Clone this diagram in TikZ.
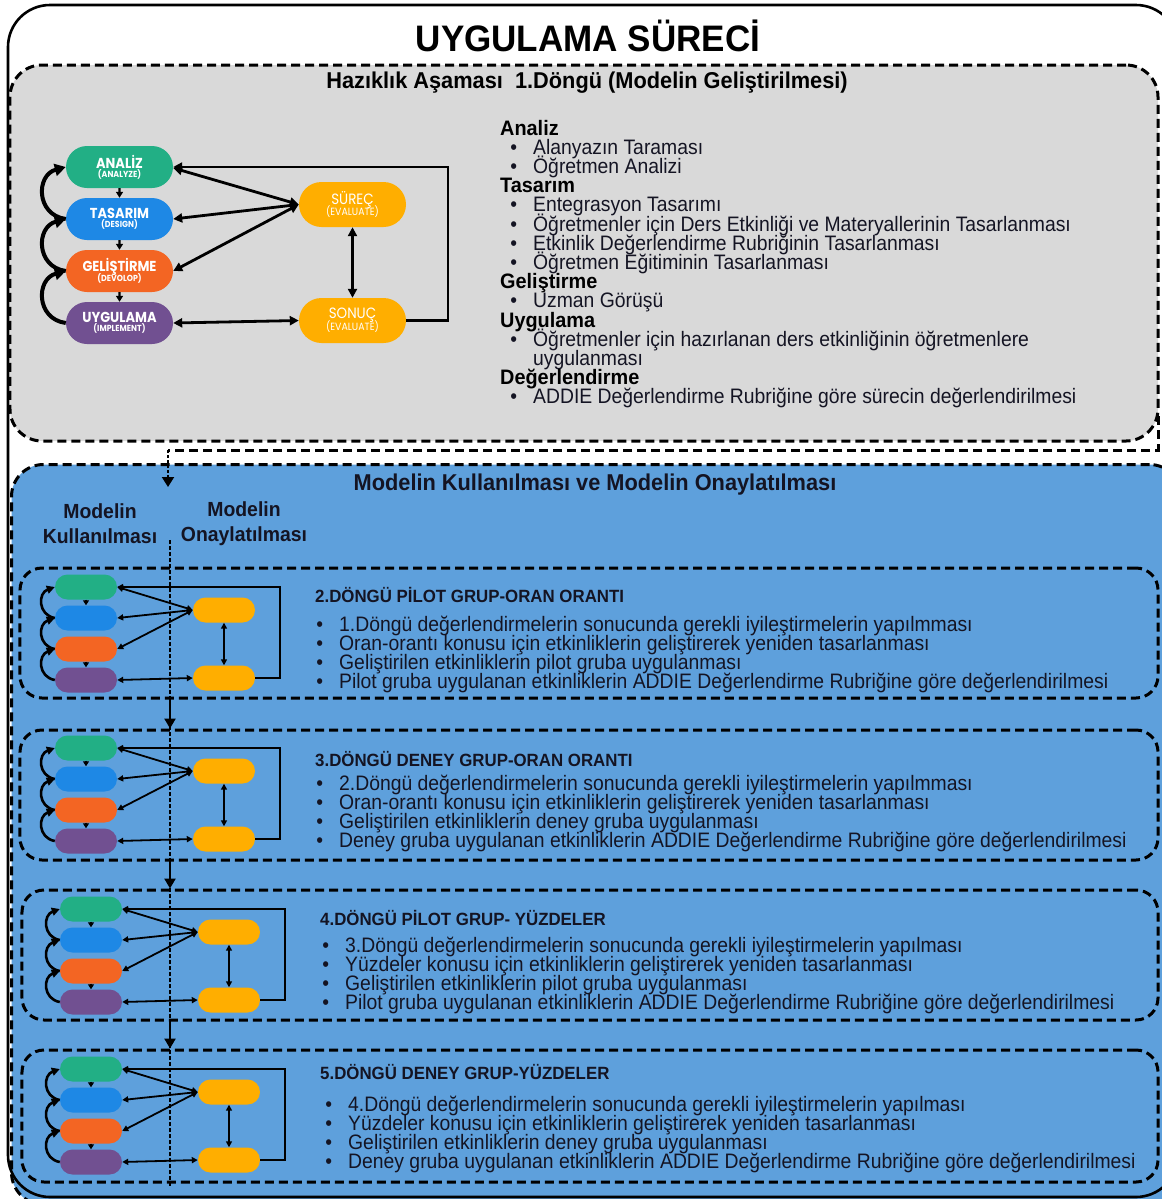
\documentclass[tikz,border=0pt]{standalone}
\usepackage{fontspec}
\setmainfont{Liberation Sans}[FakeStretch=0.925, BoldFeatures={FakeStretch=0.95}]
\newfontfamily\popfont{Poppins}[FakeStretch=0.9]
\usetikzlibrary{arrows.meta,shapes.misc,calc}

\definecolor{cgreen}{RGB}{34,175,133}
\definecolor{cblue}{RGB}{30,136,229}
\definecolor{corange}{RGB}{243,101,35}
\definecolor{cpurple}{RGB}{113,80,145}
\definecolor{cyellow}{RGB}{255,174,0}
\definecolor{cgray}{RGB}{217,217,217}
\definecolor{cbg}{RGB}{94,160,220}
\definecolor{ctext}{RGB}{20,20,35}

\tikzset{
  pillbig/.style={rounded rectangle, minimum width=107bp, minimum height=42bp,
    inner sep=0pt, text=white, align=center},
  pillsmall/.style={rounded rectangle, minimum width=62bp, minimum height=25bp, inner sep=0pt},
  heavydash/.style={line width=3bp, dash pattern=on 9bp off 5bp},
  phasebox/.style={draw, heavydash, rectangle, rounded corners=32bp, inner sep=0pt},
  cycbox/.style={draw, heavydash, rectangle, rounded corners=22bp, inner sep=0pt},
  bigline/.style={line width=2.8bp},
  bigdbl/.style={bigline, {Triangle[length=9bp,width=9bp]}-{Triangle[length=9bp,width=9bp]}},
  bigstep/.style={line width=2.4bp, -{Triangle[length=6bp,width=7bp]}},
  bigcurl/.style={line width=4bp, -{Triangle[length=11bp,width=12bp]}},
  smline/.style={line width=1.8bp},
  smdbl/.style={smline, {Triangle[length=6bp,width=6bp]}-{Triangle[length=6bp,width=6bp]}},
  smstep/.style={line width=1.6bp, -{Triangle[length=5bp,width=6bp]}},
  smcurl/.style={line width=2.6bp, -{Triangle[length=8bp,width=8bp]}},
  flowarr/.style={line width=2.6bp, -{Triangle[length=10bp,width=11bp]}},
  divider/.style={line width=1.5bp, dash pattern=on 3.5bp off 2.5bp},
  hd/.style={font=\fontsize{21}{19}\selectfont\bfseries, anchor=base west, inner sep=0pt, text=black},
  it/.style={font=\fontsize{21}{19}\selectfont, anchor=base west, inner sep=0pt, text=ctext},
  cyctitle/.style={font=\fontsize{17.8}{19}\selectfont\bfseries, anchor=base west, inner sep=0pt, text=ctext},
}

% pill captions
\newcommand\phasecap[2]{{\popfont\bfseries\fontsize{14.5}{14}\selectfont #1}\\[-3bp]{\popfont\bfseries\fontsize{8.8}{9}\selectfont (#2)}}
\newcommand\evalcap[1]{{\popfont\fontsize{15}{15}\selectfont #1}\\[-3bp]{\popfont\fontsize{10.5}{11}\selectfont (EVALUATE)}}

% one bullet line of a list: name, x of text, baseline y, text
\newcommand\bulletline[4]{\node[it] (#1) at (#2,#3) {\llap{\textbullet\hspace{16bp}}#4};}

% small ADDIE loop; green pill centred at (#2,#3)
\newcommand\minicycle[3]{%
  \begin{scope}[shift={(#2,#3)}]
    \node[pillsmall, fill=cgreen]  (#1g) at (0,0) {};
    \node[pillsmall, fill=cblue]   (#1b) at (0,31) {};
    \node[pillsmall, fill=corange] (#1o) at (0,62) {};
    \node[pillsmall, fill=cpurple] (#1p) at (0,93) {};
    \node[pillsmall, fill=cyellow] (#1s) at (138,23) {};
    \node[pillsmall, fill=cyellow] (#1r) at (138,91) {};
    \coordinate (#1f) at (194,0);
  \end{scope}
  \draw[smstep] (#1g) -- (#1b);
  \draw[smstep] (#1o) -- (#1p);
  \draw[smdbl] (#1s.west) -- (#1g.east);
  \draw[smdbl] (#1s.west) -- (#1b.east);
  \draw[smdbl] (#1s.west) -- (#1o.east);
  \draw[smdbl] (#1p.east) -- (#1r.west);
  \draw[smdbl] (#1s.south) -- (#1r.north);
  \draw[smline, -{Triangle[length=6bp,width=6bp]}] (#1r.east) -- (#1r.east -| #1f) -- (#1f) -- (#1g.east);
  \draw[smcurl] (#1b.west) .. controls ($(#1b.west)+(-17,-3)$) and ($(#1g.west)+(-17,6)$) .. (#1g.west);
  \draw[smcurl] (#1o.west) .. controls ($(#1o.west)+(-17,-3)$) and ($(#1b.west)+(-17,6)$) .. (#1b.west);
  \draw[smcurl] (#1p.west) .. controls ($(#1p.west)+(-17,-3)$) and ($(#1o.west)+(-17,6)$) .. (#1o.west);
}

\begin{document}
\begin{tikzpicture}[x=1bp, y=-1bp]
\useasboundingbox (0,0) rectangle (1162,1199);
\fill[white] (0,0) rectangle (1162,1199);

% preparation phase
\node[phasebox, fill=cgray, minimum width=1148bp, minimum height=376bp] (prep) at (584,253) {};
% use and approval phase
\node[phasebox, fill=cbg, minimum width=1170bp, minimum height=740bp, anchor=north west] (use) at (10,463) {};

% outer frame
\draw[line width=2.6bp, rounded corners=42bp] (8,5) rectangle (1178,1197);

\node[font=\fontsize{37}{40}\selectfont\bfseries] (title) at (588,36) {UYGULAMA SÜRECİ};
\node[font=\fontsize{23}{26}\selectfont\bfseries] (preptitle) at (587,83) {Hazıklık Aşaması\ \ 1.Döngü (Modelin Geliştirilmesi)};

% ---- ADDIE loop of the first cycle
\node[pillbig, fill=cgreen] (ana) at (119.5,167) {\phasecap{ANALİZ}{ANALYZE}};
\node[pillbig, fill=cblue] (tas) at (119.5,219) {\phasecap{TASARIM}{DESIGN}};
\node[pillbig, fill=corange] (gel) at (119.5,271) {\phasecap{GELİŞTİRME}{DEVOLOP}};
\node[pillbig, fill=cpurple] (uyg) at (119.5,323) {\phasecap{UYGULAMA}{IMPLEMENT}};
\node[pillbig, fill=cyellow, minimum height=45bp] (surec) at (352.5,204.5) {\evalcap{SÜREÇ}};
\node[pillbig, fill=cyellow, minimum height=45bp] (sonuc) at (352.5,320.5) {\evalcap{SONUÇ}};
\coordinate (loopedge) at (448,250);

\draw[bigstep] (ana) -- (tas);
\draw[bigstep] (tas) -- (gel);
\draw[bigstep] (gel) -- (uyg);
\draw[bigdbl] (surec.west) -- ($(ana.east)+(0,1)$);
\draw[bigdbl] (surec.west) -- (tas.east);
\draw[bigdbl] (surec.west) -- (gel.east);
\draw[bigdbl] (uyg.east) -- (sonuc.west);
\draw[bigdbl] (surec.south) -- (sonuc.north);
\draw[bigline, -{Triangle[length=9bp,width=9bp]}] (sonuc.east) -- (sonuc.east -| loopedge) |- (ana.east);
\draw[bigcurl] (tas.west) .. controls ($(tas.west)+(-30,-4)$) and ($(ana.west)+(-30,8)$) .. (ana.west);
\draw[bigcurl] (gel.west) .. controls ($(gel.west)+(-30,-4)$) and ($(tas.west)+(-30,8)$) .. (tas.west);
\draw[bigcurl] (uyg.west) .. controls ($(uyg.west)+(-30,-4)$) and ($(gel.west)+(-30,8)$) .. (gel.west);

% ---- first cycle task list
\node[hd] (hA) at (500,135) {Analiz};
\bulletline{iA1}{533}{154.2}{Alanyazın Taraması}
\bulletline{iA2}{533}{173.4}{Öğretmen Analizi}
\node[hd] (hT) at (500,192.6) {Tasarım};
\bulletline{iT1}{533}{211.8}{Entegrasyon Tasarımı}
\bulletline{iT2}{533}{231}{Öğretmenler için Ders Etkinliği ve Materyallerinin Tasarlanması}
\bulletline{iT3}{533}{250.2}{Etkinlik Değerlendirme Rubriğinin Tasarlanması}
\bulletline{iT4}{533}{269.4}{Öğretmen Eğitiminin Tasarlanması}
\node[hd] (hG) at (500,288.6) {Geliştirme};
\bulletline{iG1}{533}{307.8}{Uzman Görüşü}
\node[hd] (hU) at (500,327) {Uygulama};
\bulletline{iU1}{533}{346.2}{Öğretmenler için hazırlanan ders etkinliğinin öğretmenlere}
\node[it] (iU1b) at (533,365.4) {uygulanması};
\node[hd] (hD) at (500,384.6) {Değerlendirme};
\bulletline{iD1}{533}{403.8}{ADDIE Değerlendirme Rubriğine göre sürecin değerlendirilmesi}

% ---- link from the preparation phase into the next phase
\coordinate (link) at (1158,416);
\coordinate (bend) at (168,450);
\coordinate (arrin) at (168,487);
\draw[heavydash] (link) -- (link |- bend) -- (bend);
\draw[line width=2bp, dash pattern=on 3bp off 2bp, -{Triangle[length=10bp,width=12bp]}] (bend) -- (arrin);

\node[font=\fontsize{23}{26}\selectfont\bfseries, text=ctext] (usetitle) at (595,485) {Modelin Kullanılması ve Modelin Onaylatılması};
\node[font=\fontsize{20.5}{25}\selectfont\bfseries, align=center, text=ctext] (coluse) at (100,524) {Modelin\\Kullanılması};
\node[font=\fontsize{20.5}{25}\selectfont\bfseries, align=center, text=ctext] (colok) at (244,524) {Modelin\\Onaylatılması};

% ---- cycle boxes
\node[cycbox, minimum width=1138bp, minimum height=130bp] (cyc2) at (589,633) {};
\node[cycbox, minimum width=1138bp, minimum height=130bp] (cyc3) at (589,795) {};
\node[cycbox, minimum width=1136bp, minimum height=130bp] (cyc4) at (590,955) {};
\node[cycbox, minimum width=1136bp, minimum height=132bp] (cyc5) at (590,1116) {};

\coordinate (dv) at (170,540);
\coordinate (dvend) at (170,1188);
\draw[divider] (dv) -- (dvend);
\draw[flowarr] (cyc2.south -| dv) -- (cyc3.north -| dv);
\draw[flowarr] (cyc3.south -| dv) -- (cyc4.north -| dv);
\draw[flowarr] (cyc4.south -| dv) -- (cyc5.north -| dv);

\minicycle{m2}{86}{587}
\minicycle{m3}{86}{748}
\minicycle{m4}{91}{909}
\minicycle{m5}{91}{1069}

% ---- cycle 2
\node[cyctitle] (t2) at (315,602) {2.DÖNGÜ PİLOT GRUP-ORAN ORANTI};
\bulletline{c2a}{339}{631}{1.Döngü değerlendirmelerin sonucunda gerekli iyileştirmelerin yapılmması}
\bulletline{c2b}{339}{650.3}{Oran-orantı konusu için etkinliklerin geliştirerek yeniden tasarlanması}
\bulletline{c2c}{339}{669.6}{Geliştirilen etkinliklerin pilot gruba uygulanması}
\bulletline{c2d}{339}{688.4}{Pilot gruba uygulanan etkinliklerin ADDIE Değerlendirme Rubriğine göre değerlendirilmesi}

% ---- cycle 3
\node[cyctitle] (t3) at (315,766) {3.DÖNGÜ DENEY GRUP-ORAN ORANTI};
\bulletline{c3a}{339}{790}{2.Döngü değerlendirmelerin sonucunda gerekli iyileştirmelerin yapılmması}
\bulletline{c3b}{339}{809.3}{Oran-orantı konusu için etkinliklerin geliştirerek yeniden tasarlanması}
\bulletline{c3c}{339}{828.6}{Geliştirilen etkinliklerin deney gruba uygulanması}
\bulletline{c3d}{339}{847.4}{Deney gruba uygulanan etkinliklerin ADDIE Değerlendirme Rubriğine göre değerlendirilmesi}

% ---- cycle 4
\node[cyctitle] (t4) at (320,925) {4.DÖNGÜ PİLOT GRUP- YÜZDELER};
\bulletline{c4a}{345}{952}{3.Döngü değerlendirmelerin sonucunda gerekli iyileştirmelerin yapılması}
\bulletline{c4b}{345}{971.3}{Yüzdeler konusu için etkinliklerin geliştirerek yeniden tasarlanması}
\bulletline{c4c}{345}{990.6}{Geliştirilen etkinliklerin pilot gruba uygulanması}
\bulletline{c4d}{345}{1009.6}{Pilot gruba uygulanan etkinliklerin ADDIE Değerlendirme Rubriğine göre değerlendirilmesi}

% ---- cycle 5
\node[cyctitle] (t5) at (320,1079) {5.DÖNGÜ DENEY GRUP-YÜZDELER};
\bulletline{c5a}{348}{1111}{4.Döngü değerlendirmelerin sonucunda gerekli iyileştirmelerin yapılması}
\bulletline{c5b}{348}{1130.3}{Yüzdeler konusu için etkinliklerin geliştirerek yeniden tasarlanması}
\bulletline{c5c}{348}{1149.6}{Geliştirilen etkinliklerin deney gruba uygulanması}
\bulletline{c5d}{348}{1168.4}{Deney gruba uygulanan etkinliklerin ADDIE Değerlendirme Rubriğine göre değerlendirilmesi}
\end{tikzpicture}
\end{document}
